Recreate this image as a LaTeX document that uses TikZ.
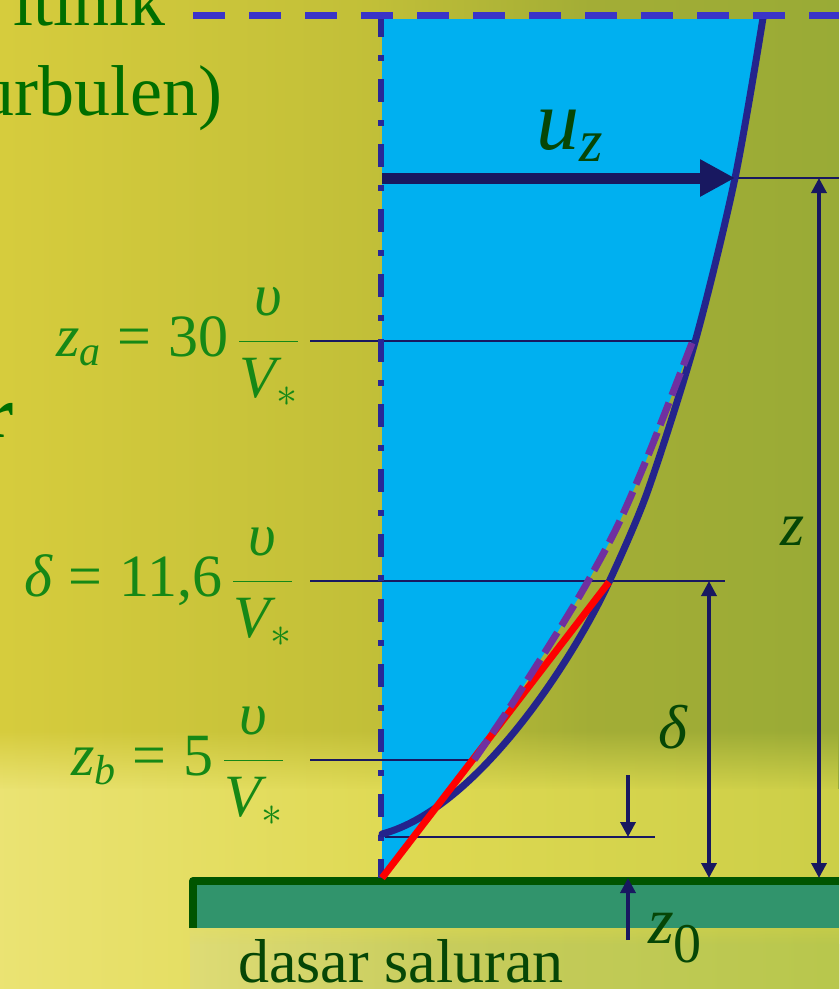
\RequirePackage{fix-cm}
\documentclass[tikz,border=0pt]{standalone}
\usepackage{amsmath}
\usepackage{fontspec}
\setmainfont{Liberation Serif}
\usetikzlibrary{arrows.meta,fadings}
\definecolor{airbiru}{RGB}{0,176,240}
\definecolor{profil}{RGB}{36,36,140}
\definecolor{garis}{RGB}{24,24,96}
\definecolor{putus}{RGB}{58,52,200}
\definecolor{titik}{RGB}{40,40,150}
\definecolor{ungu}{RGB}{112,48,160}
\definecolor{hijautua}{RGB}{6,70,6}
\definecolor{hijaurumus}{RGB}{22,136,22}
\definecolor{hijauteks}{RGB}{0,110,0}
\definecolor{dasar}{RGB}{0,85,0}
\definecolor{dasarisi}{RGB}{49,148,108}
\pgfdeclarehorizontalshading{latar}{100bp}{rgb(0bp)=(0.84,0.80,0.24); rgb(25bp)=(0.84,0.80,0.24); rgb(47bp)=(0.76,0.75,0.22); rgb(60bp)=(0.64,0.68,0.21); rgb(75bp)=(0.60,0.67,0.21); rgb(100bp)=(0.60,0.67,0.21)}
\pgfdeclarehorizontalshading{latarbawah}{100bp}{rgb(0bp)=(0.92,0.89,0.45); rgb(25bp)=(0.92,0.89,0.45); rgb(50bp)=(0.87,0.85,0.32); rgb(75bp)=(0.80,0.81,0.28); rgb(100bp)=(0.80,0.81,0.28)}
\pgfdeclarehorizontalshading{lumpur}{100bp}{rgb(0bp)=(0.87,0.86,0.46); rgb(25bp)=(0.87,0.86,0.46); rgb(45bp)=(0.78,0.80,0.36); rgb(75bp)=(0.72,0.78,0.30); rgb(100bp)=(0.72,0.78,0.30)}

\begin{document}
\begin{tikzpicture}[x=1pt,y=-1pt,line join=round,>={Triangle[length=15pt,width=15pt]}]
	\tikzset{
	tipis/.style={garis,line width=2pt},
	ukur/.style={garis,line width=3.5pt},
	label/.style={hijautua,inner sep=0pt},
	rumus/.style={hijaurumus,inner sep=0pt,anchor=base east,font=\fontsize{60}{60}\selectfont},
	tepi/.style={hijauteks,inner sep=0pt,anchor=base east,font=\fontsize{72}{72}\selectfont}
	}
	\def\pecahan{\dfrac{\textit{υ}}{\textit{V}_{*}}}
	\def\sama{\mathrel{\text{=}}}
	\useasboundingbox(0,0)rectangle(839,989);
	\clip(0,0)rectangle(839,989);
	% latar
	\shade[shading=latar](0,0)rectangle(839,989);
	\shade[shading=latarbawah,path fading=north](0,730)rectangle(839,790);
	\shade[shading=latarbawah](0,789)rectangle(839,989);
	\shade[shading=lumpur,path fading=north](190,915)rectangle(839,945);
	\shade[shading=lumpur](190,944)rectangle(839,989);
	% teks terpotong di kiri
	\node[tepi] at (166,25) {itinik};
	\node[tepi] at (223,115) {(turbulen)};
	\node[tepi,font=\fontsize{72}{72}\selectfont\bfseries] at (15,437) {r};
	% dasar saluran
	\fill[dasarisi](193,881)rectangle(839,928);
	\draw[dasar,line width=8pt](193,928)--(193,881)coordinate(dk)--(839,881);
	\node[label,anchor=base west,font=\fontsize{62}{62}\selectfont] at (238,982) {dasar saluran};
	% daerah aliran
	\coordinate(o) at (382,878);
	\coordinate(puncak) at (735,178);
	\coordinate(za) at (694,341);
	\coordinate(dl) at (609,582);
	\coordinate(zb) at (474,760);
	\fill[airbiru](382,19)--(763,19)--plot[smooth]coordinates{(763,18)(735,178)(695,342)}
	--plot[smooth]coordinates{(692,343)(670,400)(645,463)(617,527)(587,583)(557,633)(510,707)(474,760)}--(o)--cycle;
	% garis bantu
	\draw[tipis](310,341)--(za);
	\draw[tipis](310,581)--(725,581)coordinate(dkanan);
	\draw[tipis](310,760)--(zb);
	\draw[tipis](385,837)--(655,837)coordinate(z0a);
	\draw[tipis](puncak)--(839,178);
	\draw[titik,line width=6pt,dash pattern=on 23pt off 18pt on 6pt off 18pt](381,14)--(381,878);
	% profil kecepatan
	\draw[profil,line width=7pt,line cap=round]plot[smooth]coordinates{(763,18)(735,178)(695,342)(647,493)(dl)}..controls(577,652)and(480,808)..(382,834);
	\draw[red,line width=7pt](o)--(dl);
	\draw[ungu,line width=7pt,dash pattern=on 24pt off 8pt]plot[smooth]coordinates{(692,343)(670,400)(645,463)(617,527)(587,583)(557,633)(510,707)(474,760)};
	\draw[garis,line width=11pt,-{Triangle[length=35pt,width=35pt]}](382,178)--(puncak);
	\draw[putus,line width=7pt,dash pattern=on 32pt off 24pt](193,15.5)--(839,15.5);
	% ukuran
	\draw[ukur,<->](819,178)--(819,878);
	\draw[ukur,<->](709,581)--(709,878);
	\draw[ukur,->](628,775)--(628,837);
	\draw[ukur,->](628,940)--(628,878);
	% label
	\node[label,anchor=base west,font=\fontsize{86}{86}\selectfont] at (536,149) {$\textit{u}_{\textit{z}}$};
	\node[label,anchor=base west,font=\fontsize{62}{62}\selectfont] at (780,545) {\textit{z}};
	\node[label,anchor=base west,font=\fontsize{62}{62}\selectfont] at (658,748) {\textit{δ}};
	\node[label,anchor=base west,font=\fontsize{66}{66}\selectfont] at (648,943) {\textit{z}{\fontsize{56}{56}\selectfont\raisebox{-19pt}{0}}};
	\node[rumus] at (299,356) {$\textit{z}_{\textit{a}}\sama\text{30}\,\pecahan$};
	\node[rumus] at (293,596) {$\textit{δ}\sama\text{11,6}\,\pecahan$};
	\node[rumus] at (284,775) {$\textit{z}_{\textit{b}}\sama\text{5}\,\pecahan$};
\end{tikzpicture}
\end{document}
